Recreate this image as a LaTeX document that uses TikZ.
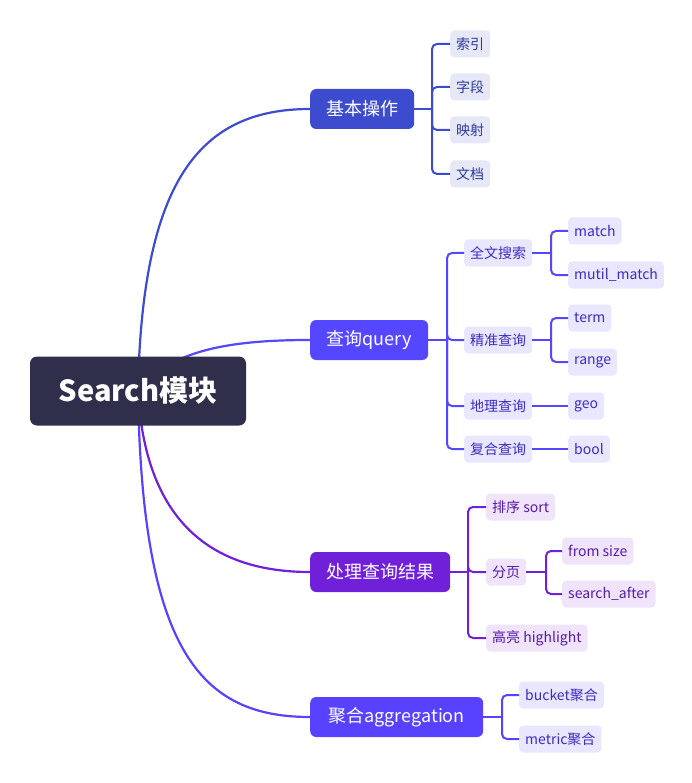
\documentclass[tikz,border=0pt]{standalone}
\usepackage{fontspec}
\setmainfont{Noto Sans CJK SC}
\usepackage{xcolor}
\usepackage{tikz}
\usetikzlibrary{backgrounds}

\definecolor{rootbg}{HTML}{2F2F4B}
\definecolor{jb}{HTML}{3D4BCF}   % 基本操作
\definecolor{jbl}{HTML}{E6E7F7}
\definecolor{jbt}{HTML}{2E3A9E}
\definecolor{cx}{HTML}{5546FF}   % 查询
\definecolor{cxl}{HTML}{E9E6FF}
\definecolor{cxt}{HTML}{3A2DBF}
\definecolor{cl}{HTML}{7020D8}   % 处理结果
\definecolor{cll}{HTML}{F0E4FB}
\definecolor{clt}{HTML}{561AA6}
\definecolor{jh}{HTML}{5842FF}   % 聚合
\definecolor{jhl}{HTML}{E9E6FF}
\definecolor{jht}{HTML}{3A2DBF}

\begin{document}
\begin{tikzpicture}[x=1pt,y=-1pt,
    root/.style={rectangle,rounded corners=7pt,fill=rootbg,text=white,
        font={\bfseries\fontsize{29}{34}\selectfont},minimum width=216pt,minimum height=69pt},
    topic/.style={rectangle,rounded corners=6pt,text=white,anchor=west,
        font={\fontsize{18}{22}\selectfont},minimum height=40pt,inner xsep=15pt},
    leaf/.style={rectangle,rounded corners=4pt,anchor=west,
        font={\fontsize{14}{17}\selectfont},minimum height=27pt,inner xsep=6pt},
    link/.style={line width=2pt,rounded corners=5pt},
    curve/.style={line width=2.2pt}]
    \useasboundingbox (0,0) rectangle (692,783);

    \node[root] (s) at (138,391) {Search模块};

    \node[topic,fill=jb,minimum width=104pt] (t1) at (310,109) {基本操作};
    \node[topic,fill=cx,minimum width=118pt] (t2) at (310,340) {查询query};
    \node[topic,fill=cl,minimum width=140pt] (t3) at (310,572) {处理查询结果};
    \node[topic,fill=jh,minimum width=173pt] (t4) at (310,717) {聚合aggregation};

    \begin{pgfonlayer}{background}
    	\draw[curve,jb] (s.center) .. controls (142,180) and (200,109) .. (t1.west);
    	\draw[curve,cx] (s.center) .. controls (170,350) and (230,340) .. (t2.west);
    	\draw[curve,cl] (s.center) .. controls (145,520) and (210,572) .. (t3.west);
    	\draw[curve,jh] (s.center) .. controls (142,650) and (200,717) .. (t4.west);
    \end{pgfonlayer}

    % 基本操作
    \coordinate (t1j) at (432,109);
    \draw[link,jb] (t1.east) -- (t1j);
    \foreach \i/\name/\y in {1/索引/44,2/字段/87,3/映射/130,4/文档/174}{
    	\node[leaf,fill=jbl,text=jbt] (t1c\i) at (450,\y) {\name};
    	\draw[link,jb] (t1j) |- (t1c\i.west);
    }

    % 查询
    \coordinate (t2j) at (447,340);
    \draw[link,cx] (t2.east) -- (t2j);
    \foreach \i/\name/\y in {1/全文搜索/253,2/精准查询/340,3/地理查询/406,4/复合查询/449}{
    	\node[leaf,fill=cxl,text=cxt] (t2c\i) at (464,\y) {\name};
    	\draw[link,cx] (t2j) |- (t2c\i.west);
    }
    \coordinate (t2c1j) at (551,253);
    \coordinate (t2c2j) at (551,340);
    \draw[link,cx] (t2c1.east) -- (t2c1j);
    \draw[link,cx] (t2c2.east) -- (t2c2j);
    \foreach \i/\name/\y/\p in {1/match/231/t2c1j,2/mutil\_match/275/t2c1j,
    	3/term/318/t2c2j,4/range/362/t2c2j}{
    	\node[leaf,fill=cxl,text=cxt] (t2g\i) at (568,\y) {\name};
    	\draw[link,cx] (\p) |- (t2g\i.west);
    }
    \node[leaf,fill=cxl,text=cxt] (t2g5) at (568,406) {geo};
    \node[leaf,fill=cxl,text=cxt] (t2g6) at (568,449) {bool};
    \draw[link,cx] (t2c3.east) -- (t2g5.west);
    \draw[link,cx] (t2c4.east) -- (t2g6.west);

    % 处理查询结果
    \coordinate (t3j) at (468,572);
    \draw[link,cl] (t3.east) -- (t3j);
    \foreach \i/\name/\y in {1/排序 sort/507,2/分页/572,3/高亮 highlight/638}{
    	\node[leaf,fill=cll,text=clt] (t3c\i) at (486,\y) {\name};
    	\draw[link,cl] (t3j) |- (t3c\i.west);
    }
    \coordinate (t3c2j) at (546,572);
    \draw[link,cl] (t3c2.east) -- (t3c2j);
    \foreach \i/\name/\y in {1/from size/551,2/search\_after/594}{
    	\node[leaf,fill=cll,text=clt] (t3g\i) at (562,\y) {\name};
    	\draw[link,cl] (t3c2j) |- (t3g\i.west);
    }

    % 聚合
    \coordinate (t4j) at (502,717);
    \draw[link,jh] (t4.east) -- (t4j);
    \foreach \i/\name/\y in {1/bucket聚合/695,2/metric聚合/739}{
    	\node[leaf,fill=jhl,text=jht] (t4c\i) at (519,\y) {\name};
    	\draw[link,jh] (t4j) |- (t4c\i.west);
    }
\end{tikzpicture}
\end{document}
